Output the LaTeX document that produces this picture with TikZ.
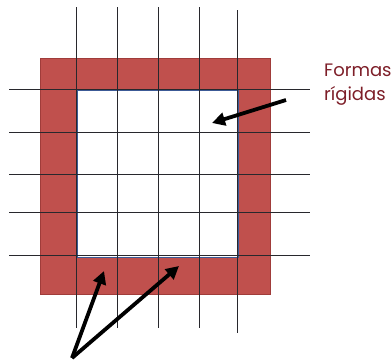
\documentclass[tikz,border=0pt]{standalone}
\usepackage{fontspec}
\setmainfont{Poppins}
\usepackage{tikz}
\usetikzlibrary{arrows.meta,positioning,calc}
\definecolor{frojo}{RGB}{192,80,77}
\definecolor{frojoborde}{RGB}{160,60,58}
\definecolor{fazul}{RGB}{60,90,150}
\definecolor{fgris}{RGB}{40,40,45}
\definecolor{ftexto}{RGB}{125,30,40}

\begin{document}
\begin{tikzpicture}[x=1pt, y=-1pt,
  marco/.style={fill=frojo, draw=frojoborde, line width=0.6pt},
  hueco/.style={fill=white, draw=fazul, line width=1.2pt},
  rejilla/.style={fgris, line width=0.9pt},
  flecha/.style={black, line width=3.8pt, -{Triangle[length=13pt,width=13pt]}},
  etiqueta/.style={text=ftexto, font=\fontsize{18}{24}\selectfont, align=left, inner sep=0pt}
]
  \useasboundingbox (0,0) rectangle (392,360);

  % Marco rigido
  \node[marco, minimum width=230pt, minimum height=236pt, inner sep=0pt, anchor=north west] (marco) at (40,58) {};
  \node[hueco, minimum width=161pt, minimum height=167pt, inner sep=0pt, anchor=north west] (hueco) at (77,90) {};

  % Rejilla
  \foreach \x in {76,117,158,199}
    \draw[rejilla] (\x,7) -- (\x,328);
  \draw[rejilla] (237,10) -- (237,333);
  \foreach \y in {89,132,174,212,255}
    \draw[rejilla] (9,\y) -- (310,\y);

  % Etiqueta
  \node[etiqueta, anchor=north west] (rig) at (324,64) {Formas\\rígidas};

  % Flechas
  \coordinate (colaA) at (286,100);
  \coordinate (puntaA) at (212,123);
  \coordinate (colaB) at (72,358);
  \coordinate (puntaB) at (104,271);
  \coordinate (puntaC) at (179,266);
  \draw[flecha] (colaA) -- (puntaA);
  \draw[flecha] (colaB) -- (puntaB);
  \draw[flecha] (colaB) -- (puntaC);
\end{tikzpicture}
\end{document}
